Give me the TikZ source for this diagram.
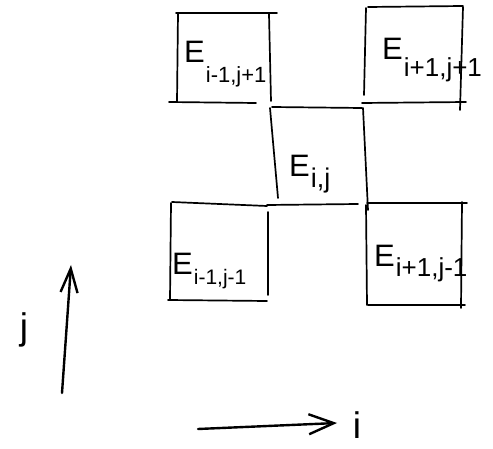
\documentclass[tikz,border=0pt]{standalone}
\usepackage{fontspec}
\setmainfont{Liberation Sans}
\usetikzlibrary{arrows.meta}
\newcommand{\sbx}[3][21]{\kern1pt\raisebox{-#2pt}{\fontsize{#1}{#1}\selectfont #3}}
\tikzset{
  edge/.style={line width=1.7pt, line cap=round},
  lbl/.style={inner sep=0pt, font=\fontsize{31}{31}\selectfont},
  axis/.style={line width=2.4pt, line cap=round},
  axlbl/.style={inner sep=0pt, font=\fontsize{37}{37}\selectfont}
}
\begin{document}
\begin{tikzpicture}[x=1pt,y=-1pt]
\useasboundingbox (0,0) rectangle (493,449);
% box E_{i-1,j+1}
\draw[edge] (176,13) -- (277,13);
\draw[edge] (178,13) -- (177,102);
\draw[edge] (269,14) -- (271,101);
\draw[edge] (169,102) -- (256,103);
% box E_{i+1,j+1}
\draw[edge] (368,7) -- (463,6);
\draw[edge] (366,8) -- (364,95);
\draw[edge] (463,7) -- (460,110);
\draw[edge] (362,103) -- (466,102);
% box E_{i,j}
\draw[edge] (272,107) -- (362,108);
\draw[edge] (270,108) -- (278,198);
\draw[edge] (363,108) -- (368,210);
\draw[edge] (267,205) -- (358,204);
% box E_{i-1,j-1}
\draw[edge] (172,202) -- (267,206);
\draw[edge] (171,203) -- (170,300);
\draw[edge] (268,212) -- (268,295);
\draw[edge] (168,300) -- (267,301);
% box E_{i+1,j-1}
\draw[edge] (367,203) -- (467,203);
\draw[edge] (366,205) -- (367,305);
\draw[edge] (462,202) -- (461,308);
\draw[edge] (368,305) -- (465,305);
% labels
\node[lbl, anchor=base west] (la) at (184,63) {E\sbx[22]{20}{i-1,j+1}};
\node[lbl, anchor=base west] (lc) at (382,60) {E\sbx[26]{17}{i+1,j+1}};
\node[lbl, anchor=base west] (lij) at (289,177) {E\sbx[27]{11}{i,j}};
\node[lbl, anchor=base west] (ld) at (172,275) {E\sbx{10}{i-1,j-1}};
\node[lbl, anchor=base west] (le) at (374,267) {E\sbx[26]{10}{i+1,j-1}};
% axes
\coordinate (j0) at (62,393);
\coordinate (j1) at (71,265);
\draw[axis, -{Straight Barb[length=24pt,width=17pt]}] (j0) -- (j1);
\node[axlbl, anchor=base] (jl) at (24,340) {j};
\coordinate (i0) at (198,429);
\coordinate (i1) at (337,423);
\draw[axis, -{Straight Barb[length=25pt,width=20pt]}] (i0) -- (i1);
\node[axlbl, anchor=base] (il) at (357,438) {i};
\end{tikzpicture}
\end{document}
